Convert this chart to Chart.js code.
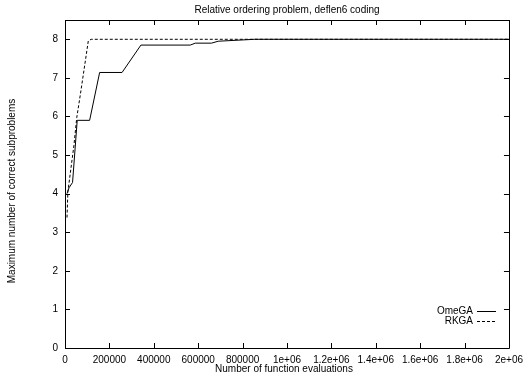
<!DOCTYPE html>
<html><head><meta charset="utf-8">
<script src="https://cdn.jsdelivr.net/npm/chart.js@4"></script>
<style>html,body{margin:0;padding:0;background:#fff}#wrap{width:529px;height:376px}</style>
</head><body><div id="wrap"><canvas id="c" width="529" height="376"></canvas></div>
<script>
const omegaX = [9000, 18000, 34000, 55000, 111000, 156000, 257000, 342000, 564000, 587000, 660000, 690000, 855000, 2000000];
const omegaY = [4.0, 4.15, 4.29, 5.9, 5.9, 7.14, 7.14, 7.85, 7.85, 7.9, 7.9, 7.95, 8.0, 8.0];
const rkgaX = [9000, 13000, 40000, 53000, 70000, 85000, 105000, 118000, 2000000];
const rkgaY = [3.38, 4.05, 5.24, 5.97, 6.6, 7.18, 7.96, 8.0, 8.0];
const seriesNames = ['OmeGA', 'RKGA'];
const titleText = 'Relative ordering problem, deflen6 coding';
const xTitle = 'Number of function evaluations';
const yTitle = 'Maximum number of correct subproblems';

const FONT = 'Liberation Sans, Arial, Helvetica, sans-serif';
const toPts = (xs, ys) => xs.map((x, i) => ({x, y: ys[i]}));

const frame = {
  id: 'frame',
  afterDraw(chart) {
    const {ctx, chartArea: a, scales: {x, y}} = chart;
    ctx.save();
    ctx.strokeStyle = '#000';
    ctx.lineWidth = 1;
    ctx.beginPath();
    ctx.rect(Math.round(a.left) + 0.5, Math.round(a.top) + 0.5, Math.round(a.right - a.left), Math.round(a.bottom - a.top));
    ctx.stroke();
    const L = 5;
    ctx.beginPath();
    x.ticks.forEach(t => {
      const px = Math.round(x.getPixelForValue(t.value)) + 0.5;
      ctx.moveTo(px, a.bottom); ctx.lineTo(px, a.bottom - L);
      ctx.moveTo(px, a.top); ctx.lineTo(px, a.top + L);
    });
    y.ticks.forEach(t => {
      const py = Math.round(y.getPixelForValue(t.value)) + 0.5;
      ctx.moveTo(a.left, py); ctx.lineTo(a.left + L, py);
      ctx.moveTo(a.right, py); ctx.lineTo(a.right - L, py);
    });
    ctx.stroke();
    ctx.font = '10px ' + FONT;
    ctx.fillStyle = '#000';
    ctx.textBaseline = 'middle';
    // titles
    ctx.textAlign = 'center';
    ctx.fillText(titleText, 287, 10);
    ctx.fillText(xTitle, 284, 369);
    ctx.save();
    ctx.translate(12, 191);
    ctx.rotate(-Math.PI / 2);
    ctx.fillText(yTitle, 0, 0);
    ctx.restore();
    // legend
    ctx.textAlign = 'right';
    chart.data.datasets.forEach((ds, i) => {
      const yy = 311 + i * 10;
      ctx.fillText(ds.label, 473, yy);
      ctx.beginPath();
      ctx.setLineDash(ds.borderDash || []);
      ctx.moveTo(477, yy + 0.5); ctx.lineTo(496, yy + 0.5);
      ctx.stroke();
    });
    ctx.restore();
  }
};

new Chart(document.getElementById('c'), {
  type: 'line',
  data: {
    datasets: [
      {label: seriesNames[0], data: toPts(omegaX, omegaY), borderColor: '#000', borderWidth: 1, pointRadius: 0, tension: 0, fill: false},
      {label: seriesNames[1], data: toPts(rkgaX, rkgaY), borderColor: '#000', borderWidth: 1, borderDash: [3, 2], pointRadius: 0, tension: 0, fill: false}
    ]
  },
  options: {
    responsive: false,
    animation: false,
    devicePixelRatio: 1,
    layout: {padding: {left: 0, right: 15, top: 20, bottom: 0}},
    plugins: {
      legend: {display: false},
      tooltip: {enabled: false},
      title: {display: false}
    },
    scales: {
      x: {
        type: 'linear', min: 0, max: 2000000,
        border: {display: false},
        grid: {display: false, drawTicks: false},
        ticks: {stepSize: 200000, color: '#000', padding: 6, maxRotation: 0, autoSkip: false,
          font: {family: FONT, size: 10},
          callback: v => v >= 1000000 ? (v / 1000000) + 'e+06' : String(v)},
        afterFit: s => { s.height = 28; }
      },
      y: {
        min: 0, max: 8.5,
        border: {display: false},
        grid: {display: false, drawTicks: false},
        ticks: {stepSize: 1, color: '#000', padding: 7, font: {family: FONT, size: 10}},
        afterBuildTicks: s => { s.ticks = s.ticks.filter(t => Number.isInteger(t.value)); },
        afterFit: s => { s.width = 65; }
      }
    }
  },
  plugins: [frame]
});
</script></body></html>
